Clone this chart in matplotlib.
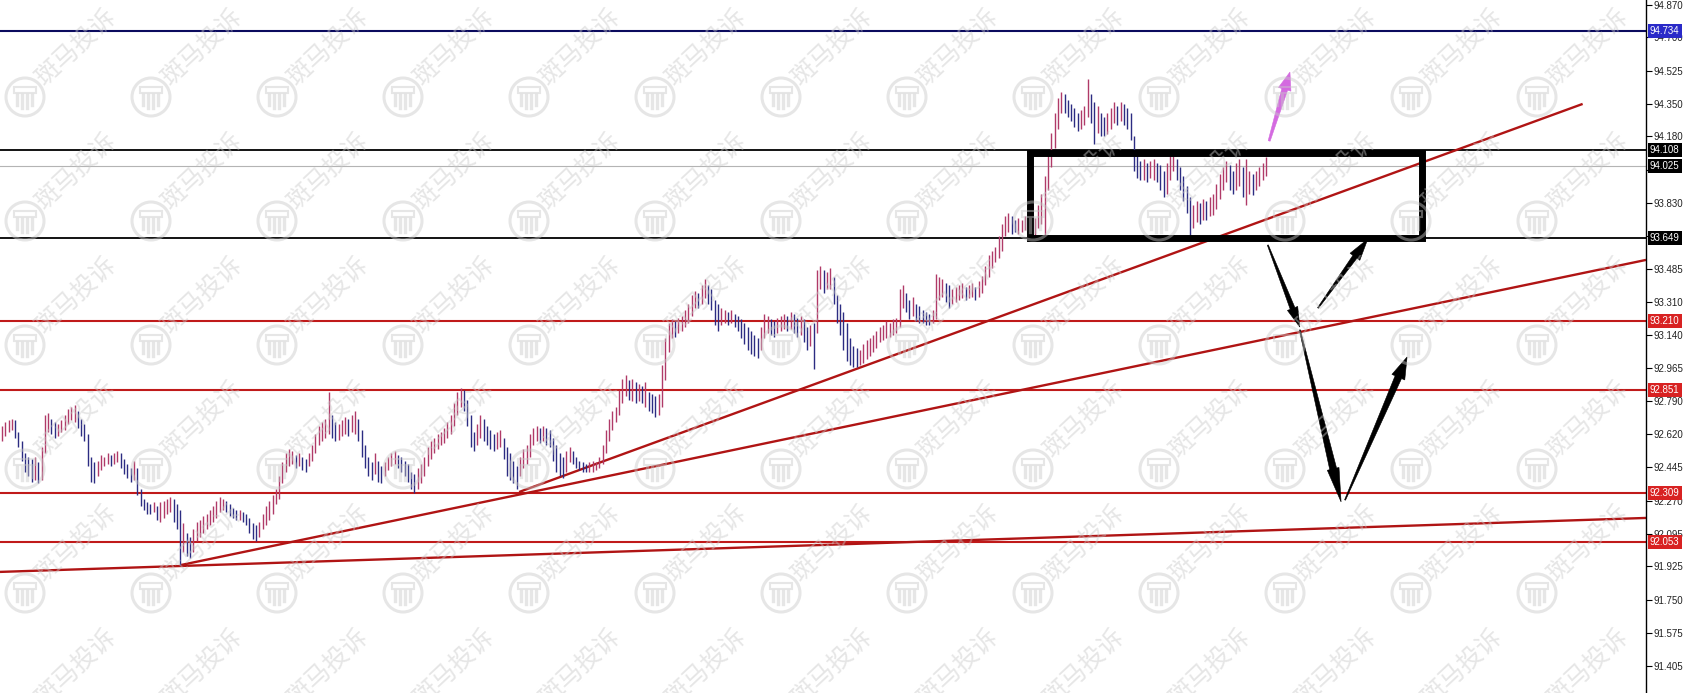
import matplotlib
matplotlib.use("Agg")
import matplotlib.pyplot as plt
import numpy as np
from matplotlib.patches import Polygon, Circle, Rectangle
from matplotlib.lines import Line2D
from matplotlib.transforms import IdentityTransform

plt.rcParams['font.family'] = ['Liberation Sans', 'DejaVu Sans']

# ---------------- data (prices) ----------------
highs = [
    92.66, 92.68, 92.69, 92.70, 92.69, 92.63, 92.58, 92.52, 92.50, 92.49,
    92.50, 92.47, 92.55, 92.72, 92.73, 92.70, 92.68, 92.67, 92.69, 92.72,
    92.75, 92.76, 92.77, 92.74, 92.70, 92.67, 92.62, 92.50, 92.47, 92.48,
    92.51, 92.50, 92.52, 92.51, 92.52, 92.53, 92.52, 92.49, 92.46, 92.44,
    92.48, 92.44, 92.33, 92.28, 92.26, 92.25, 92.26, 92.24, 92.26, 92.27,
    92.28, 92.29, 92.28, 92.25, 92.22, 92.15, 92.10, 92.08, 92.12, 92.16,
    92.17, 92.19, 92.20, 92.22, 92.24, 92.27, 92.29, 92.28, 92.27, 92.25,
    92.23, 92.22, 92.22, 92.21, 92.20, 92.18, 92.15, 92.14, 92.16, 92.20,
    92.24, 92.27, 92.30, 92.33, 92.40, 92.47, 92.52, 92.54, 92.53, 92.51,
    92.52, 92.50, 92.49, 92.52, 92.56, 92.62, 92.66, 92.68, 92.70, 92.84,
    92.72, 92.68, 92.67, 92.69, 92.71, 92.70, 92.72, 92.74, 92.70, 92.64,
    92.56, 92.50, 92.47, 92.52, 92.48, 92.45, 92.47, 92.50, 92.52, 92.53,
    92.51, 92.50, 92.48, 92.46, 92.42, 92.41, 92.44, 92.46, 92.50, 92.55,
    92.58, 92.60, 92.62, 92.63, 92.65, 92.68, 92.72, 92.78, 92.84, 92.86,
    92.85, 92.80, 92.72, 92.63, 92.67, 92.72, 92.70, 92.66, 92.64, 92.62,
    92.63, 92.64, 92.60, 92.55, 92.52, 92.48, 92.45, 92.50, 92.54, 92.56,
    92.62, 92.65, 92.66, 92.65, 92.66, 92.65, 92.64, 92.60, 92.56, 92.52,
    92.50, 92.53, 92.55, 92.53, 92.50, 92.48, 92.47, 92.46, 92.47, 92.48,
    92.47, 92.50, 92.56, 92.64, 92.70, 92.74, 92.76, 92.85, 92.91, 92.93,
    92.90, 92.91, 92.89, 92.88, 92.87, 92.89, 92.84, 92.83, 92.82, 92.83,
    92.98, 93.12, 93.20, 93.22, 93.21, 93.23, 93.24, 93.27, 93.30, 93.35,
    93.37, 93.36, 93.40, 93.43, 93.40, 93.38, 93.32, 93.30, 93.28, 93.27,
    93.26, 93.27, 93.25, 93.24, 93.22, 93.20, 93.18, 93.16, 93.14, 93.12,
    93.18, 93.25, 93.24, 93.22, 93.21, 93.23, 93.24, 93.25, 93.24, 93.26,
    93.25, 93.23, 93.24, 93.22, 93.18, 93.19, 93.20, 93.48, 93.50, 93.48,
    93.47, 93.49, 93.44, 93.35, 93.30, 93.26, 93.20, 93.12, 93.08, 93.07,
    93.06, 93.09, 93.11, 93.12, 93.14, 93.16, 93.18, 93.19, 93.21, 93.20,
    93.22, 93.23, 93.38, 93.40, 93.36, 93.32, 93.34, 93.30, 93.29, 93.27,
    93.26, 93.25, 93.27, 93.46, 93.44, 93.43, 93.41, 93.40, 93.38, 93.39,
    93.40, 93.41, 93.39, 93.40, 93.41, 93.39, 93.42, 93.45, 93.50, 93.56,
    93.58, 93.60, 93.66, 93.72, 93.76, 93.78, 93.76, 93.74, 93.75, 93.74,
    93.76, 93.74, 93.73, 93.75, 93.82, 93.88, 93.97, 94.10, 94.20, 94.30,
    94.38, 94.41, 94.40, 94.37, 94.35, 94.33, 94.30, 94.32, 94.34, 94.48,
    94.40, 94.36, 94.34, 94.30, 94.28, 94.30, 94.33, 94.36, 94.34, 94.36,
    94.35, 94.33, 94.30, 94.18, 94.08, 94.05, 94.06, 94.04, 94.05, 94.06,
    94.04, 94.03, 94.00, 94.04, 94.08, 94.10, 94.06, 94.02, 93.97, 93.92,
    93.86, 93.82, 93.84, 93.83, 93.85, 93.84, 93.86, 93.88, 93.93, 93.98,
    94.02, 94.05, 94.03, 94.00, 94.04, 94.06, 94.02, 94.06, 94.00, 93.98,
    94.00, 94.02, 94.04, 94.07,
]
lows = [
    92.58, 92.61, 92.63, 92.64, 92.60, 92.55, 92.48, 92.42, 92.40, 92.37,
    92.38, 92.36, 92.38, 92.52, 92.63, 92.62, 92.60, 92.61, 92.63, 92.64,
    92.67, 92.69, 92.68, 92.65, 92.61, 92.58, 92.45, 92.37, 92.36, 92.40,
    92.43, 92.45, 92.46, 92.45, 92.46, 92.47, 92.44, 92.41, 92.39, 92.37,
    92.38, 92.30, 92.24, 92.22, 92.20, 92.20, 92.21, 92.17, 92.16, 92.18,
    92.20, 92.21, 92.16, 92.12, 91.93, 92.00, 91.98, 91.97, 92.00, 92.06,
    92.08, 92.10, 92.12, 92.14, 92.16, 92.18, 92.21, 92.22, 92.21, 92.19,
    92.18, 92.17, 92.17, 92.16, 92.14, 92.10, 92.07, 92.06, 92.08, 92.12,
    92.14, 92.17, 92.20, 92.25, 92.28, 92.36, 92.42, 92.45, 92.46, 92.44,
    92.45, 92.43, 92.42, 92.45, 92.48, 92.52, 92.56, 92.58, 92.60, 92.62,
    92.60, 92.58, 92.59, 92.61, 92.62, 92.61, 92.63, 92.62, 92.58, 92.50,
    92.44, 92.40, 92.38, 92.41, 92.37, 92.36, 92.40, 92.43, 92.45, 92.46,
    92.44, 92.42, 92.40, 92.37, 92.33, 92.31, 92.33, 92.36, 92.40, 92.45,
    92.49, 92.52, 92.54, 92.56, 92.57, 92.60, 92.62, 92.66, 92.72, 92.76,
    92.74, 92.66, 92.55, 92.53, 92.56, 92.60, 92.58, 92.56, 92.54, 92.53,
    92.54, 92.55, 92.49, 92.40, 92.38, 92.36, 92.33, 92.40, 92.44, 92.46,
    92.50, 92.56, 92.58, 92.57, 92.58, 92.56, 92.55, 92.48, 92.42, 92.40,
    92.39, 92.42, 92.47, 92.46, 92.44, 92.43, 92.42, 92.42, 92.42, 92.42,
    92.43, 92.44, 92.46, 92.52, 92.58, 92.64, 92.68, 92.72, 92.78, 92.82,
    92.80, 92.79, 92.78, 92.79, 92.78, 92.76, 92.74, 92.73, 92.71, 92.72,
    92.76, 92.90, 93.05, 93.12, 93.13, 93.15, 93.16, 93.18, 93.20, 93.24,
    93.28, 93.28, 93.30, 93.33, 93.30, 93.27, 93.19, 93.16, 93.19, 93.20,
    93.19, 93.20, 93.18, 93.16, 93.12, 93.09, 93.06, 93.04, 93.03, 93.02,
    93.06, 93.12, 93.15, 93.14, 93.13, 93.15, 93.16, 93.17, 93.16, 93.17,
    93.15, 93.13, 93.14, 93.10, 93.06, 93.08, 92.96, 93.15, 93.38, 93.36,
    93.38, 93.38, 93.30, 93.20, 93.14, 93.06, 93.00, 92.98, 92.97, 92.97,
    92.98, 92.99, 93.01, 93.03, 93.05, 93.07, 93.10, 93.11, 93.12, 93.13,
    93.14, 93.15, 93.18, 93.28, 93.26, 93.22, 93.24, 93.21, 93.20, 93.20,
    93.19, 93.19, 93.20, 93.22, 93.32, 93.34, 93.31, 93.28, 93.30, 93.31,
    93.32, 93.33, 93.32, 93.33, 93.34, 93.32, 93.34, 93.36, 93.40, 93.44,
    93.49, 93.52, 93.54, 93.58, 93.66, 93.68, 93.67, 93.68, 93.67, 93.68,
    93.69, 93.67, 93.66, 93.66, 93.70, 93.72, 93.66, 93.90, 94.02, 94.12,
    94.22, 94.30, 94.30, 94.28, 94.26, 94.23, 94.21, 94.22, 94.24, 94.28,
    94.25, 94.14, 94.20, 94.18, 94.18, 94.19, 94.22, 94.25, 94.24, 94.26,
    94.24, 94.22, 94.16, 94.00, 93.96, 93.95, 93.95, 93.94, 93.96, 93.95,
    93.94, 93.90, 93.86, 93.88, 93.95, 94.00, 93.95, 93.90, 93.84, 93.78,
    93.66, 93.70, 93.73, 93.72, 93.74, 93.74, 93.76, 93.77, 93.80, 93.85,
    93.90, 93.94, 93.90, 93.88, 93.90, 93.92, 93.86, 93.82, 93.88, 93.87,
    93.90, 93.92, 93.95, 93.97,
]

# horizontal levels and their axis labels
levels = [94.734, 94.108, 94.025, 93.649, 93.210, 92.851, 92.309, 92.053]
level_line_colors = ['#0b0b5e', '#000000', '#b4b4b4', '#000000',
                     '#c01a1a', '#c01a1a', '#c01a1a', '#c01a1a']
level_line_widths = [1.5, 1.3, 0.8, 1.3, 1.5, 1.5, 1.5, 1.5]
level_label_bg = ['#2a2ac8', '#000000', '#000000', '#000000',
                  '#d82222', '#d82222', '#d82222', '#d82222']

# price axis ticks
tick_values = [94.870, 94.700, 94.525, 94.350, 94.180, 94.005, 93.830, 93.655,
               93.485, 93.310, 93.140, 92.965, 92.790, 92.620, 92.445, 92.270,
               92.095, 91.925, 91.750, 91.575, 91.405]

# trend lines: (bar0, price0, bar1, price1)
trend_lines = [
    (-0.6, 91.896, 498.2, 92.179),
    (54.2, 91.932, 498.2, 93.532),
    (156.7, 92.315, 479.0, 94.350),
]

# consolidation box: (bar_left, bar_right, price_low, price_high)
box = (311.5, 430.3, 93.645, 94.095)

# arrows: (bar0, price0, bar1, price1)
black_arrows = [
    (383.6, 93.610, 393.3, 93.180),
    (398.8, 93.280, 413.9, 93.642),
    (393.3, 93.165, 405.8, 92.263),
    (407.0, 92.273, 425.8, 93.023),
]
magenta_arrow = (384.0, 94.156, 390.3, 94.517)

# ---------------- figure ----------------
W, H = 1686, 693
fig = plt.figure(figsize=(W / 100, H / 100), dpi=100)
fig.patch.set_facecolor('white')
ax = fig.add_axes([0, 0, 1646 / W, 1])
ax.set_facecolor('white')
ax.set_xlim(-0.6, 498.2)
ax.set_ylim(91.261, 94.895)

# bars
hi = np.array(highs)
lo = np.array(lows)
idx = np.arange(len(hi))
mid = (hi + lo) / 2
up = np.r_[True, mid[1:] >= mid[:-1]]
cols = np.where(up, '#b03a68', '#2c2c82')
ax.vlines(idx, lo, hi, colors=cols, lw=1.0, zorder=3)

# levels
for lv, c, lw in zip(levels, level_line_colors, level_line_widths):
    ax.axhline(lv, color=c, lw=lw, zorder=2)

# trend lines
for x0, y0, x1, y1 in trend_lines:
    ax.plot([x0, x1], [y0, y1], color='#b01414', lw=1.7,
            solid_capstyle='butt', zorder=2)

# box
bx0, bx1, by0, by1 = box
ax.add_patch(Rectangle((bx0, by0), bx1 - bx0, by1 - by0, fill=False,
                       ec='black', lw=5.0, joinstyle='miter', zorder=4))


def draw_arrow(p0, p1, tw0, tw1, hw, hl, color, zorder=6):
    P0 = ax.transData.transform(p0)
    P1 = ax.transData.transform(p1)
    d = P1 - P0
    L = np.hypot(*d)
    u = d / L
    n = np.array([-u[1], u[0]])
    B = P1 - u * hl
    pts = [P0 + n * tw0 / 2, B + n * tw1 / 2, B + n * hw / 2, P1,
           B - n * hw / 2, B - n * tw1 / 2, P0 - n * tw0 / 2]
    poly = Polygon(pts, closed=True, transform=IdentityTransform(),
                   fc=color, ec=color, lw=0.4, zorder=zorder, clip_on=False)
    ax.add_patch(poly)


arrow_shapes = [(1, 5, 11, 20), (1, 5, 12, 22), (1, 7, 12, 34), (1, 7, 14, 22)]
for (x0, y0, x1, y1), (a, b, c, d) in zip(black_arrows, arrow_shapes):
    draw_arrow((x0, y0), (x1, y1), a, b, c, d, '#000000')
mx0, my0, mx1, my1 = magenta_arrow
draw_arrow((mx0, my0), (mx1, my1), 2, 6, 13, 18, '#d46ae0')

# axis styling
for s in ['top', 'left', 'bottom']:
    ax.spines[s].set_visible(False)
ax.spines['right'].set_color('black')
ax.spines['right'].set_linewidth(1.0)
ax.set_xticks([])
ax.yaxis.tick_right()
ax.set_yticks(tick_values)
tick_labels = []
for v in tick_values:
    hidden = any(abs(v - lv) < 0.025 for lv in levels)
    tick_labels.append('' if hidden else f'{v:.3f}')
ax.set_yticklabels(tick_labels)
ax.tick_params(axis='y', direction='out', length=4, width=0.8, color='black',
               labelsize=7, pad=1.5, labelcolor='#222222')

# level labels on the price axis
for lv, bg in zip(levels, level_label_bg):
    ax.annotate(f'{lv:.3f}', xy=(1, lv), xycoords=('axes fraction', 'data'),
                xytext=(4, 0), textcoords='offset pixels', ha='left',
                va='center', fontsize=7, color='white',
                bbox=dict(boxstyle='square,pad=0.2', fc=bg, ec='none'),
                annotation_clip=False, zorder=10)

# watermarks
WM = '#c8c8c8'
WA = 0.45
for k in range(6):
    for j in range(13):
        cx = 25 + 126 * j
        cy = H - (97 + 124 * k)
        fig.add_artist(Circle((cx, cy), 19, transform=IdentityTransform(),
                              fill=False, ec=WM, lw=2.2, alpha=WA))
        fig.add_artist(Rectangle((cx - 11, cy + 4), 22, 6,
                                 transform=IdentityTransform(), fill=False,
                                 ec=WM, lw=1.5, alpha=WA))
        for dx in (-8, -3, 2, 7):
            fig.add_artist(Line2D([cx + dx, cx + dx],
                                  [cy + 2, cy - 12 + abs(dx + 0.5) * 0.5],
                                  transform=IdentityTransform(), color=WM,
                                  lw=2.4, alpha=WA))
        fig.text(cx + 15, cy + 15, '斑马投诉', transform=IdentityTransform(),
                 rotation=43, rotation_mode='anchor', ha='left', va='center',
                 fontsize=18, color=WM, alpha=WA,
                 family=['Noto Sans CJK SC', 'DejaVu Sans'])

fig.savefig('out.png', dpi=100, facecolor='white')
